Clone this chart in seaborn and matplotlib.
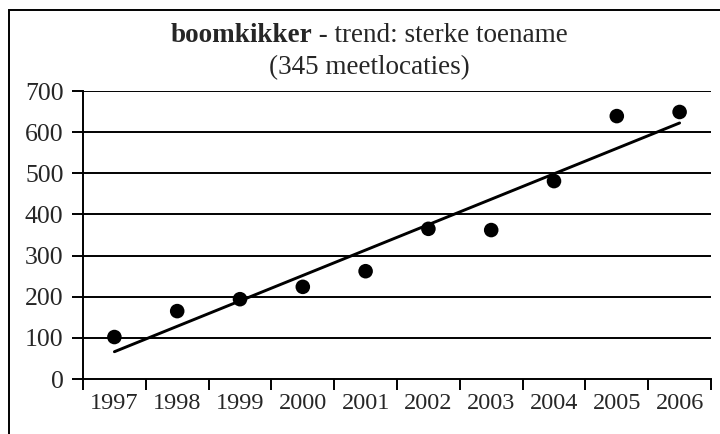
import numpy as np
import pandas as pd
import matplotlib
matplotlib.use("Agg")
import matplotlib.pyplot as plt
import seaborn as sns
from matplotlib.patches import Rectangle

# data
years = ["1997", "1998", "1999", "2000", "2001", "2002", "2003", "2004", "2005", "2006"]
counts = [102, 165, 194, 224, 262, 365, 362, 481, 639, 649]
y_ticks = [0, 100, 200, 300, 400, 500, 600, 700]

sns.set_style("white")
plt.rcParams['font.family'] = ['Liberation Serif', 'DejaVu Serif']

df = pd.DataFrame({"pos": np.arange(len(years)), "count": counts})

fig = plt.figure(figsize=(7.2, 4.34), dpi=100)
ax = fig.add_axes([83 / 720, 1 - 379 / 434, (711 - 83) / 720, (379 - 91) / 434])

# horizontal grid lines
for yv in y_ticks[1:]:
    ax.axhline(yv, color="black", lw=1.4, zorder=1)

sns.regplot(data=df, x="pos", y="count", scatter=False, ci=None, ax=ax,
            line_kws={"color": "black", "lw": 2.1, "zorder": 3})
sns.scatterplot(data=df, x="pos", y="count", ax=ax, color="black", s=110,
                edgecolor="none", zorder=4)

ax.set_xlim(-0.5, len(years) - 0.5)
ax.set_ylim(0, 700)
ax.set_yticks(y_ticks)
ax.set_yticklabels([str(v) for v in y_ticks], fontsize=18.5)

# tick marks between categories, labels centred
ax.set_xticks(np.arange(len(years) + 1) - 0.5)
ax.set_xticklabels([])
ax.set_xticks(np.arange(len(years)), minor=True)
ax.set_xticklabels(years, minor=True, fontsize=17.5)
ax.tick_params(axis="x", which="major", direction="out", length=8, width=1.4, color="black")
ax.tick_params(axis="x", which="minor", length=0, pad=10)
ax.tick_params(axis="y", direction="out", length=8, width=1.4, color="black", pad=6)
ax.tick_params(left=True, bottom=True)

for side in ["top", "right"]:
    ax.spines[side].set_visible(False)
for side in ["left", "bottom"]:
    ax.spines[side].set_color("black")
    ax.spines[side].set_linewidth(1.4)
ax.set_xlabel("")
ax.set_ylabel("")

# title: bold species name + normal rest, centred as one line
fig.canvas.draw()
r = fig.canvas.get_renderer()
cx = 369 / 720
ty = 1 - 35 / 434
t1 = fig.text(0, ty, "boomkikker", fontsize=19.5, fontweight="bold", va="center")
t2 = fig.text(0, ty, " - trend: sterke toename", fontsize=19.5, va="center")
w1 = t1.get_window_extent(r).width / fig.bbox.width
w2 = t2.get_window_extent(r).width / fig.bbox.width
x0 = cx - (w1 + w2) / 2
t1.set_x(x0)
t2.set_x(x0 + w1)
fig.text(cx, 1 - 68 / 434, "(345 meetlocaties)", fontsize=19.5, ha="center", va="center")

# outer frame
fig.patches.append(Rectangle((9 / 720, -0.1), 1.2, 1.1 - 10 / 434, transform=fig.transFigure,
                             fill=False, edgecolor="black", lw=1.4))

fig.savefig("out.png", dpi=100)
